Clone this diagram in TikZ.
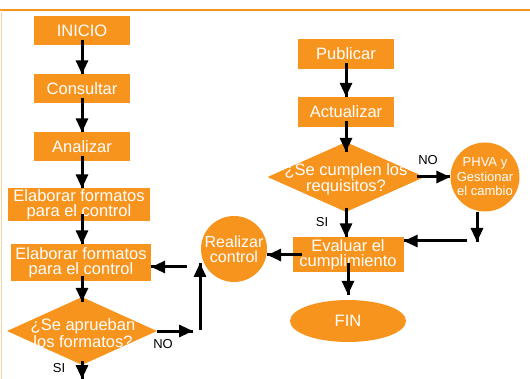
\documentclass[tikz,border=0pt]{standalone}
\usepackage{fontspec}
\setmainfont{Liberation Sans}
\usetikzlibrary{arrows.meta}
\usetikzlibrary{decorations.markings}
\usetikzlibrary{shapes.geometric}
\definecolor{naranja}{RGB}{247,148,29}
\definecolor{borde}{RGB}{251,211,160}
\tikzset{flecha/.style = {line width = 3, decoration={markings,
                                  mark=at position 1 with {\arrow{Triangle[length=14pt, width=12pt]}}},
                      postaction={decorate}}}
\tikzset{caja/.style = {rectangle, fill = naranja, text = white, inner sep = 0, align = center,
                        font = \fontsize{16.5}{15}\selectfont}}
\tikzset{decision/.style = {diamond, fill = naranja, inner sep = 0}}
\tikzset{texto/.style = {text = white, inner sep = 0, align = center, font = \fontsize{16.5}{15}\selectfont}}
\tikzset{circulo/.style = {circle, fill = naranja, text = white, inner sep = 0, align = center,
                           font = \fontsize{16}{15}\selectfont}}
\tikzset{etiqueta/.style = {text = black, inner sep = 0, font = \fontsize{13}{14}\selectfont}}

\begin{document}
\begin{tikzpicture}[x = 1pt, y = -1pt]
      \useasboundingbox (0, 0) rectangle (530, 379);
      \draw [naranja, line width = 1.5] (0, 10) -- (530, 10);
      \draw [borde, line width = 1.5] (1.5, 10) -- (1.5, 379);

      \node (inicio) at (82, 31) [caja, minimum width = 96, minimum height = 29] {INICIO};
      \node (consultar) at (82, 89) [caja, minimum width = 96, minimum height = 29] {Consultar};
      \node (analizar) at (82, 147) [caja, minimum width = 96, minimum height = 29] {Analizar};
      \node (elaborar1) at (79, 205) [caja, minimum width = 142, minimum height = 33] {Elaborar formatos\\para el control};
      \node (elaborar2) at (81, 263) [caja, minimum width = 140, minimum height = 37] {Elaborar formatos\\para el control};
      \node (aprueban) at (82, 331) [decision, minimum width = 150, minimum height = 68] {};
      \node (apruebantxt) at (83, 333) [texto] {¿Se aprueban\\los formatos?};
      \node (realizar) at (234, 249) [circulo, minimum size = 66] {Realizar\\control};

      \node (publicar) at (346, 54) [caja, minimum width = 96, minimum height = 30] {Publicar};
      \node (actualizar) at (346, 112) [caja, minimum width = 96, minimum height = 30] {Actualizar};
      \node (cumplen) at (346, 177) [decision, minimum width = 157, minimum height = 70] {};
      \node (cumplentxt) at (346, 179) [texto] {¿Se cumplen los\\requisitos?};
      \node (phva) at (485, 177) [circulo, minimum size = 69, inner sep = -1.5,
                                  font = \fontsize{13}{14.5}\selectfont] {PHVA y\\Gestionar\\el cambio};
      \node (evaluar) at (348, 255) [caja, minimum width = 111, minimum height = 35] {Evaluar el\\cumplimiento};
      \node (fin) at (348, 321) [ellipse, fill = naranja, text = white, inner sep = 0,
                                 minimum width = 116, minimum height = 42,
                                 font = \fontsize{16.5}{15}\selectfont] {FIN};

      \node (noA) at (163, 344) [etiqueta] {NO};
      \node (siA) at (59, 368) [etiqueta] {SI};
      \node (noB) at (428, 160) [etiqueta] {NO};
      \node (siB) at (322, 222) [etiqueta] {SI};

      \coordinate (salida) at (82, 379);
      \coordinate (giro) at (193, 331);
      \coordinate (subida) at (200, 330);
      \coordinate (llegada) at (200, 263);
      \coordinate (retorno) at (187, 267);
      \coordinate (bajada) at (477, 242);
      \coordinate (regreso) at (467, 241);

      \draw [flecha, shorten <= -6] (inicio) -- (consultar);
      \draw [flecha, shorten <= -6] (consultar) -- (analizar);
      \draw [flecha, shorten <= -6] (analizar) -- (analizar |- elaborar1.north);
      \draw [flecha, shorten <= -8] (elaborar1.south -| inicio) -- (elaborar2.north -| inicio);
      \draw [flecha, shorten <= -6] (elaborar2.south -| inicio) -- ([yshift = -5] aprueban.north);
      \draw [flecha, shorten <= -4] (aprueban.south) -- (salida);
      \draw [flecha] (aprueban.east) -- (giro);
      \draw [flecha] (subida) -- (llegada);
      \draw [flecha] (retorno) -- (retorno -| elaborar2.east);

      \draw [flecha, shorten <= -6] (publicar) -- (actualizar);
      \draw [flecha, shorten <= -6] (actualizar) -- ([yshift = -10] cumplen.north);
      \draw [flecha, shorten <= -8] (cumplen.east) -- (phva);
      \draw [flecha] (bajada |- phva.south) -- (bajada);
      \draw [flecha] (regreso) -- (regreso -| evaluar.east);
      \draw [flecha, shorten <= -4] (cumplen.south) -- (cumplen.south |- evaluar.north);
      \draw [flecha, shorten <= -10] (evaluar.west) -- (evaluar.west -| realizar.east);
      \draw [flecha, shorten <= -10] (evaluar.south) -- ([yshift = 5] fin.north);
    \end{tikzpicture}
\end{document}
